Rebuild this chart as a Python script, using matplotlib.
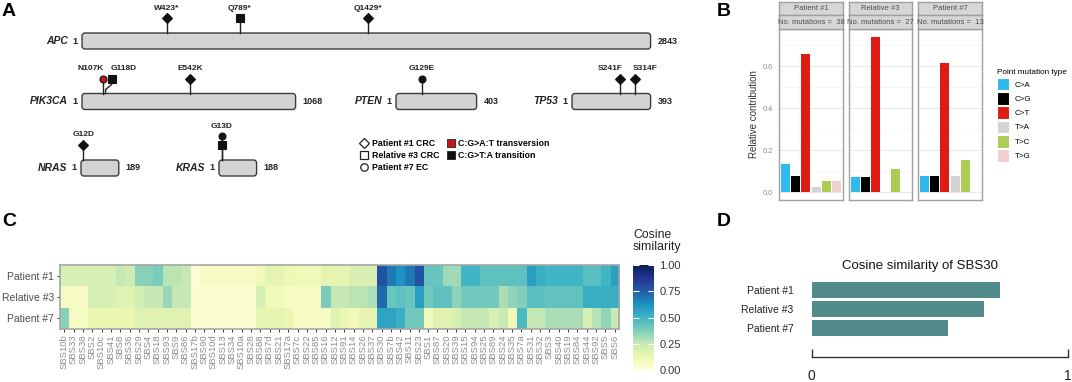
import numpy as np
import matplotlib.pyplot as plt
from matplotlib.patches import FancyBboxPatch, Patch
from matplotlib.lines import Line2D
from collections import Counter

plt.rcParams['font.family'] = ['Liberation Sans', 'DejaVu Sans']

# ---------------- Panel A: lollipop data
gene_names = ['APC', 'PIK3CA', 'PTEN', 'TP53', 'NRAS', 'KRAS']
gene_lengths = [2843, 1068, 403, 393, 189, 188]

mut_gene = ['APC', 'APC', 'APC', 'PIK3CA', 'PIK3CA', 'PIK3CA', 'PTEN',
            'TP53', 'TP53', 'NRAS', 'KRAS', 'KRAS']
mut_pos = [423, 789, 1429, 107, 118, 542, 129, 241, 314, 12, 13, 13]
mut_label = ['W423*', 'Q789*', 'Q1429*', 'N107K', 'G118D', 'E542K', 'G129E',
             'S241F', 'S314F', 'G12D', 'G13D', 'G13D']
mut_sample = ['Patient #1', 'Relative #3', 'Patient #1', 'Patient #7', 'Relative #3',
              'Patient #1', 'Patient #7', 'Patient #1', 'Patient #1', 'Patient #1',
              'Relative #3', 'Patient #7']
mut_type = ['C:G>T:A transition'] * 12
mut_type[3] = 'C:G>A:T transversion'

# ---------------- Panel B: mutation spectrum
spec_types = ['C>A', 'C>G', 'C>T', 'T>A', 'T>C', 'T>G']
spec_samples = ['Patient #1', 'Relative #3', 'Patient #7']
spec_counts = [38, 27, 13]
spec_p1 = [0.132, 0.079, 0.658, 0.026, 0.053, 0.053]
spec_r3 = [0.074, 0.074, 0.741, 0.0, 0.111, 0.0]
spec_p7 = [0.077, 0.077, 0.615, 0.077, 0.154, 0.0]

# ---------------- Panel C: cosine similarity heatmap
sig_names = ['SBS10b', 'SBS33', 'SBS38', 'SBS2', 'SBS10c', 'SBS41', 'SBS8', 'SBS36',
             'SBS29', 'SBS4', 'SBS18', 'SBS93', 'SBS9', 'SBS86', 'SBS17b', 'SBS90',
             'SBS10d', 'SBS13', 'SBS34', 'SBS10a', 'SBS28', 'SBS88', 'SBS7d', 'SBS21',
             'SBS17a', 'SBS7c', 'SBS22', 'SBS85', 'SBS16', 'SBS12', 'SBS91', 'SBS14',
             'SBS26', 'SBS37', 'SBS30', 'SBS7b', 'SBS42', 'SBS11', 'SBS23', 'SBS1',
             'SBS87', 'SBS20', 'SBS39', 'SBS15', 'SBS94', 'SBS25', 'SBS89', 'SBS24',
             'SBS35', 'SBS7a', 'SBS31', 'SBS32', 'SBS3', 'SBS40', 'SBS19', 'SBS84',
             'SBS44', 'SBS92', 'SBS5', 'SBS6']
heat_rows = ['Patient #1', 'Relative #3', 'Patient #7']
cos_p1 = [0.20, 0.20, 0.20, 0.20, 0.20, 0.20, 0.25, 0.22, 0.36, 0.36, 0.38, 0.27, 0.27, 0.25,
          0.02, 0.06, 0.06, 0.06, 0.06, 0.06, 0.06, 0.10, 0.15, 0.15, 0.12, 0.10, 0.10, 0.10,
          0.15, 0.15, 0.15, 0.19, 0.19, 0.19, 0.78, 0.68, 0.62, 0.68, 0.78, 0.42, 0.42, 0.32,
          0.32, 0.50, 0.50, 0.44, 0.44, 0.44, 0.44, 0.44, 0.58, 0.52, 0.50, 0.50, 0.50, 0.50,
          0.45, 0.45, 0.50, 0.58]
cos_r3 = [0.07, 0.07, 0.07, 0.20, 0.20, 0.20, 0.17, 0.17, 0.21, 0.25, 0.25, 0.33, 0.25, 0.25,
          0.03, 0.03, 0.03, 0.04, 0.04, 0.04, 0.03, 0.20, 0.10, 0.10, 0.07, 0.07, 0.07, 0.07,
          0.38, 0.25, 0.25, 0.27, 0.27, 0.29, 0.72, 0.42, 0.44, 0.42, 0.58, 0.40, 0.44, 0.44,
          0.35, 0.40, 0.40, 0.40, 0.40, 0.30, 0.34, 0.37, 0.45, 0.45, 0.43, 0.43, 0.43, 0.43,
          0.52, 0.52, 0.52, 0.52]
cos_p7 = [0.36, 0.07, 0.07, 0.13, 0.13, 0.13, 0.13, 0.13, 0.17, 0.17, 0.17, 0.17, 0.17, 0.17,
          0.04, 0.04, 0.04, 0.04, 0.04, 0.04, 0.04, 0.15, 0.15, 0.15, 0.13, 0.07, 0.07, 0.07,
          0.07, 0.17, 0.13, 0.10, 0.15, 0.15, 0.56, 0.56, 0.52, 0.40, 0.40, 0.10, 0.17, 0.17,
          0.20, 0.25, 0.25, 0.25, 0.20, 0.24, 0.10, 0.48, 0.25, 0.25, 0.30, 0.30, 0.30, 0.30,
          0.20, 0.28, 0.34, 0.24]

# ---------------- Panel D: SBS30
sbs30_samples = ['Patient #1', 'Relative #3', 'Patient #7']
sbs30_cos = [0.736, 0.673, 0.532]

W, H = 1072, 382
fig = plt.figure(figsize=(W / 100, H / 100), dpi=100)


def px_axes(left, top, right, bottom):
    return fig.add_axes([left / W, 1 - bottom / H, (right - left) / W, (bottom - top) / H])


def px_text(x, y, s, **kw):
    fig.text(x / W, 1 - y / H, s, **kw)


# ================= A
axA = px_axes(0, 0, 720, 200)
axA.set_xlim(-410, 3190)
axA.set_ylim(200, 0)
axA.axis('off')

gene_x0 = dict(zip(gene_names, [0, 0, 1570, 2450, -5, 685]))
gene_y = dict(zip(gene_names, [41, 101.5, 101.5, 101.5, 168, 168]))
bar_h = 16
for g, n in zip(gene_names, gene_lengths):
    x0, y = gene_x0[g], gene_y[g]
    axA.add_patch(FancyBboxPatch((x0, y - bar_h / 2), n, bar_h,
                                 boxstyle='round,pad=0,rounding_size=15', mutation_aspect=0.2,
                                 fc='#D3D3D3', ec='#3C3C3C', lw=1.0))
    axA.text(x0 - 70, y, g, ha='right', va='center', fontsize=7.5,
             fontweight='bold', fontstyle='italic', color='#222222')
    axA.text(x0 - 35, y, '1', ha='center', va='center', fontsize=6.5, fontweight='bold',
             color='#222222')
    axA.text(x0 + n + 35, y, str(n), ha='left', va='center', fontsize=6.5,
             fontweight='bold', color='#222222')

shape = {'Patient #1': 'D', 'Relative #3': 's', 'Patient #7': 'o'}
msize = {'D': 5.2, 's': 5.3, 'o': 5.0}
fill = {'C:G>A:T transversion': '#C8161D', 'C:G>T:A transition': '#111111'}
# nudges (in amino-acid units) to keep close markers / labels apart
marker_nudge = {'G118D': 30}
label_nudge = {'N107K': -62, 'G118D': 58, 'S241F': -48, 'S314F': 50}
group_n = Counter(zip(mut_gene, mut_pos))
level_seen = Counter()
for g, pos, lab, s, t in zip(mut_gene, mut_pos, mut_label, mut_sample, mut_type):
    key = (g, pos)
    level = level_seen[key]
    level_seen[key] += 1
    x = gene_x0[g] + pos
    top = gene_y[g] - bar_h / 2
    ym = top - 15 - 9 * level
    xm = x + marker_nudge.get(lab, 0)
    if xm != x:
        axA.plot([x, x, xm, xm], [top, top - 4, top - 9, ym], color='#222222', lw=1, zorder=2)
    else:
        axA.plot([x, x], [top, ym], color='#222222', lw=1, zorder=2)
    m = shape[s]
    axA.plot(xm, ym, marker=m, ms=msize[m], mfc=fill[t], mec='#111111', mew=0.8, zorder=3)
    if level == group_n[key] - 1:
        axA.text(xm + label_nudge.get(lab, 0), ym - 10, lab, ha='center', va='center',
                 fontsize=6, fontweight='bold', color='#222222')

legA = [Line2D([], [], ls='none', marker='D', ms=5.2, mfc='white', mec='#222', mew=0.9),
        Line2D([], [], ls='none', marker='s', ms=5.8, mfc='white', mec='#222', mew=0.9),
        Line2D([], [], ls='none', marker='o', ms=5.4, mfc='white', mec='#222', mew=0.9),
        Line2D([], [], ls='none', marker='s', ms=6, mfc='#C8161D', mec='#222', mew=0.6),
        Line2D([], [], ls='none', marker='s', ms=6, mfc='#111111', mec='#222', mew=0.6),
        Line2D([], [], ls='none')]
legA_labels = ['Patient #1 CRC', 'Relative #3 CRC', 'Patient #7 EC',
               'C:G>A:T transversion', 'C:G>T:A transition', '']
axA.legend(legA, legA_labels, ncol=2, loc='upper left', bbox_to_anchor=(355 / 720, 1 - 135 / 200),
           frameon=False, borderpad=0, handlelength=1.0, handletextpad=0.4,
           columnspacing=0.8, labelspacing=0.35, prop={'weight': 'bold', 'size': 6.3})

# ================= B
facet_x = [(779, 843), (849, 912), (918, 982)]
spec_values = [spec_p1, spec_r3, spec_p7]
type_colors = ['#2EBAED', '#000000', '#DE1C14', '#D4D2D2', '#ADCC54', '#F0D0CE']
for i, ((l, r), samp, cnt, vals) in enumerate(zip(facet_x, spec_samples, spec_counts, spec_values)):
    ax = px_axes(l, 29, r, 200)
    ax.bar(np.arange(len(spec_types)), vals, width=0.9, color=type_colors, zorder=2)
    ax.set_xlim(-0.6, 5.6)
    ax.set_ylim(-0.037, 0.777)
    ax.set_xticks([])
    ax.set_yticks([0, 0.2, 0.4, 0.6])
    ax.set_yticks([0.1, 0.3, 0.5, 0.7], minor=True)
    ax.grid(axis='y', which='major', color='#E6E6E6', lw=0.7, zorder=0)
    ax.grid(axis='y', which='minor', color='#F3F3F3', lw=0.5, zorder=0)
    ax.tick_params(axis='y', which='both', length=0, pad=4, labelsize=5.3, labelcolor='#8A8A8A')
    if i > 0:
        ax.set_yticklabels([])
    for sp in ax.spines.values():
        sp.set_color('#A0A0A0')
        sp.set_linewidth(1)
    for (t, b), txt in zip([(2, 15), (15, 29)], [samp, 'No. mutations =  %d' % cnt]):
        sa = px_axes(l, t, r, b)
        sa.set_facecolor('#D6D6D6')
        sa.set_xticks([])
        sa.set_yticks([])
        for sp in sa.spines.values():
            sp.set_color('#A0A0A0')
            sp.set_linewidth(1)
        sa.text(0.5, 0.5, txt, ha='center', va='center', fontsize=5.5, color='#4D4D4D',
                transform=sa.transAxes)
px_text(754, 114, 'Relative contribution', rotation=90, ha='center', va='center',
        fontsize=7, color='#333333')
fig.legend([Patch(fc=c, ec='white', lw=0.8) for c in type_colors], spec_types,
           title='Point mutation type', loc='upper left', bbox_to_anchor=(993 / W, 1 - 65 / H),
           frameon=False, fontsize=5.8, title_fontsize=5.9, handlelength=1.5, handleheight=2.05,
           labelspacing=0.2, handletextpad=0.7, alignment='left', borderpad=0)

# ================= C
axC = px_axes(59.5, 265, 619.5, 329)
heat = np.array([cos_p1, cos_r3, cos_p7])
im = axC.imshow(heat, cmap='YlGnBu', vmin=0, vmax=1, aspect='auto', interpolation='nearest')
axC.set_xticks(range(len(sig_names)))
axC.set_xticklabels(sig_names, rotation=90, fontsize=6.8, color='#8C8C8C')
axC.set_yticks(range(len(heat_rows)))
axC.set_yticklabels(heat_rows, fontsize=7.5, color='#4D4D4D')
axC.tick_params(length=2.5, width=0.7, color='#333333', pad=1.5)
for sp in axC.spines.values():
    sp.set_color('#A6A6A6')
    sp.set_linewidth(1.2)

cax = px_axes(633, 265, 654, 370)
cb = fig.colorbar(im, cax=cax, ticks=[0, 0.25, 0.5, 0.75, 1.0])
cb.ax.set_yticklabels(['0.00', '0.25', '0.50', '0.75', '1.00'], fontsize=8, color='#333333')
cb.outline.set_visible(False)
cb.ax.tick_params(color='white', direction='in', length=4, width=0.8, left=True, right=True, pad=4)
px_text(633, 229, 'Cosine\nsimilarity', ha='left', va='top', fontsize=8.8, linespacing=1.05,
        color='#222222')

# ================= D
axD = px_axes(811.7, 279, 1068, 357)
yy = np.arange(len(sbs30_samples))
axD.barh(yy, sbs30_cos, height=0.8, color='#528B8B')
axD.set_xlim(0, 1)
axD.set_ylim(len(sbs30_samples) - 1 + 1.53, -0.58)
axD.set_yticks(yy)
axD.set_yticklabels(sbs30_samples, fontsize=7.5, color='#222222')
axD.set_xticks([0, 1])
axD.set_xticklabels(['0', '1'], fontsize=10, color='#222222')
axD.tick_params(axis='y', length=0, pad=13)
axD.tick_params(axis='x', direction='in', length=6, width=1, color='#333333', pad=9)
for side in ['top', 'right', 'left']:
    axD.spines[side].set_visible(False)
axD.spines['bottom'].set_color('#333333')
axD.spines['bottom'].set_linewidth(1)
px_text(920, 266, 'Cosine similarity of SBS30', ha='center', va='center', fontsize=9.5,
        color='#111111')

# panel letters
for lab, x, y in [('A', 2, 11), ('B', 717, 11), ('C', 2, 221), ('D', 717, 221)]:
    px_text(x, y, lab, ha='left', va='center', fontsize=14, fontweight='bold')

fig.savefig('out.png', dpi=100)
